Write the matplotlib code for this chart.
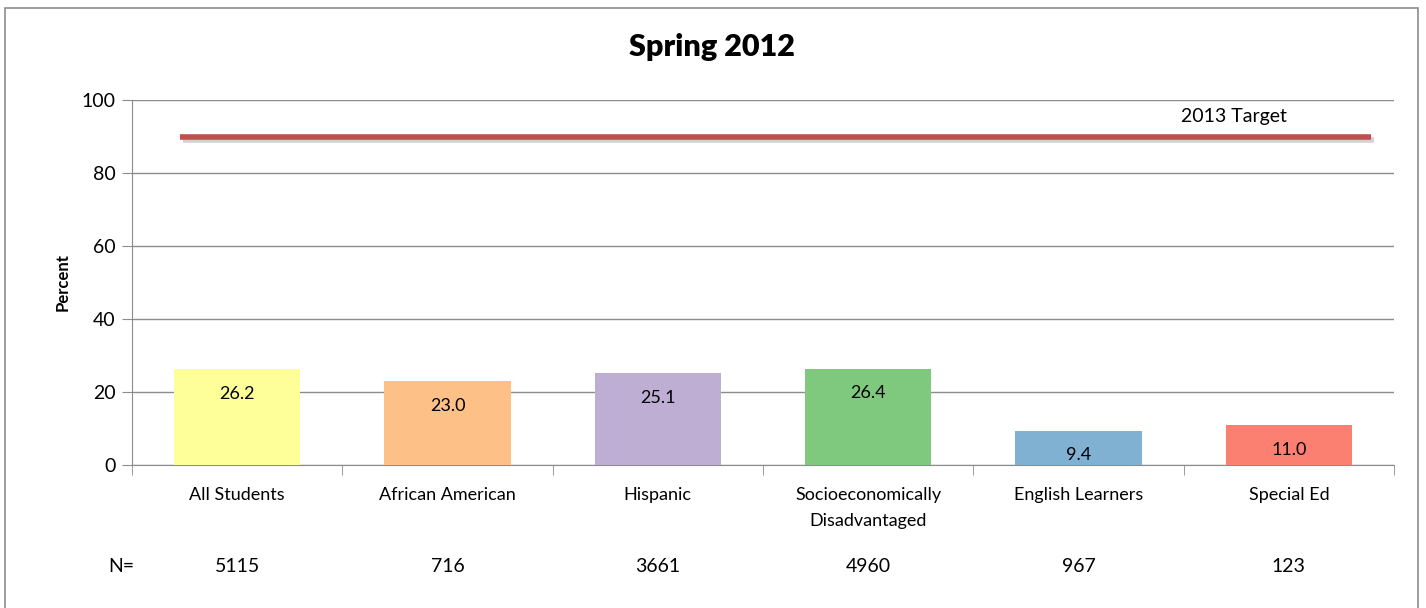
import numpy as np
import matplotlib.pyplot as plt
import matplotlib.patheffects as pe
from matplotlib.patches import Rectangle
import matplotlib.transforms as mtransforms

    #Fonts (Lato is close to Calibri)
plt.rcParams['font.family'] = ['Lato', 'DejaVu Sans']

    #Data
groups = ["All Students", "African American", "Hispanic",
          "Socioeconomically\nDisadvantaged", "English Learners", "Special Ed"]
percents = [26.2, 23.0, 25.1, 26.4, 9.4, 11.0]
n_counts = [5115, 716, 3661, 4960, 967, 123]
target = 90
bar_colors = ["#FFFF99", "#FDC086", "#BEAED4", "#7FC97F", "#80B1D3", "#FB8072"]

x = np.arange(len(groups))

fig = plt.figure(figsize=(14.26, 6.08), dpi=100)
ax = fig.add_axes([132/1426, 1 - 465/608, (1394-132)/1426, 365/608])

    #Bars + value labels
ax.bar(x, percents, width=0.6, color=bar_colors, zorder=3)
for xi, p in zip(x, percents):
    ax.text(xi, p - 4.6, f"{p:.1f}", ha='center', va='top', fontsize=13, zorder=4)

    #Target line with soft shadow
ax.plot([-0.27, 5.39], [target, target], color="#C0504D", lw=4, zorder=5,
        solid_capstyle='butt',
        path_effects=[pe.SimpleLineShadow(offset=(2, -2.5), shadow_color='gray', alpha=0.35),
                      pe.Normal()])
ax.text(4.74, 95.6, "2013 Target", ha='center', va='center', fontsize=14)

    #Axes
ax.set_xlim(-0.5, 5.5)
ax.set_ylim(0, 100)
ax.set_yticks(np.arange(0, 101, 20))
ax.yaxis.grid(True, color="#8C8C8C", lw=1, zorder=0)
ax.set_axisbelow(True)
for s in ['top', 'right']:
    ax.spines[s].set_visible(False)
for s in ['left', 'bottom']:
    ax.spines[s].set_color("#8C8C8C")
ax.set_xticks(x)
ax.set_xticklabels(groups, fontsize=13, linespacing=1.75)
ax.set_xticks(np.arange(-0.5, 6, 1), minor=True)
ax.tick_params(axis='x', which='major', length=0, pad=16)
ax.tick_params(axis='x', which='minor', length=7, color="#8C8C8C")
ax.tick_params(axis='y', length=7, color="#8C8C8C", labelsize=14, pad=5)
ax.set_ylabel("Percent", fontsize=12, fontweight='bold', labelpad=8)

    #N= row
trans = mtransforms.blended_transform_factory(ax.transData, ax.transAxes)
ax.text(-0.55, -0.277, "N=", transform=trans, ha='center', va='center', fontsize=14)
for xi, n in zip(x, n_counts):
    ax.text(xi, -0.277, str(n), transform=trans, ha='center', va='center', fontsize=14)

    #Title
fig.text(712/1426, 1 - 47/608, "Spring 2012", ha='center', va='center',
         fontsize=22, fontweight='heavy')

    #Chart border
fig.patches.append(Rectangle((5/1426, -0.05), 1413/1426, 1.04 - 8/608 + 0.01,
                             transform=fig.transFigure, fill=False,
                             edgecolor="#8C8C8C", lw=1.2))

fig.savefig("out.png", dpi=100)
